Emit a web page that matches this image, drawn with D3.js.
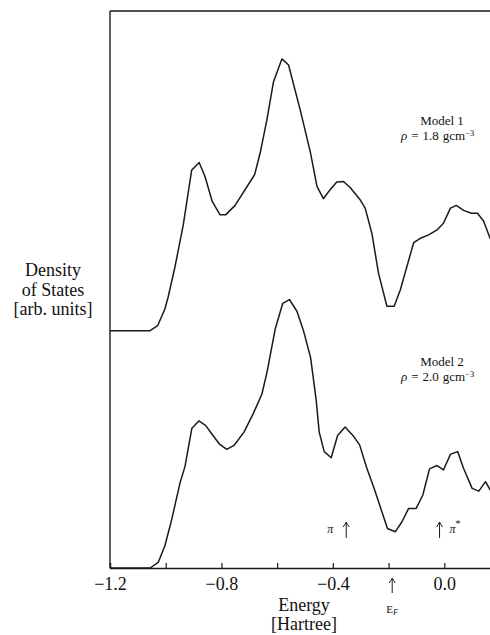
<!DOCTYPE html>
<html>
<head>
<meta charset="utf-8">
<script src="https://cdn.jsdelivr.net/npm/d3@7"></script>
<style>
  html, body { margin: 0; padding: 0; background: #fff; }
  svg { display: block; }
  text { font-family: "Liberation Serif", "DejaVu Serif", serif; fill: #111; }
</style>
</head>
<body>
<div id="chart"></div>
<script>
// ---- Data (energy in Hartree, density of states in arbitrary units) ----
const energy1 = [-1.2, -1.056, -1.029, -1.003, -0.991, -0.967, -0.937, -0.907, -0.880, -0.859,
  -0.833, -0.805, -0.785, -0.751, -0.681, -0.661, -0.637, -0.613, -0.583, -0.559,
  -0.517, -0.481, -0.457, -0.434, -0.410, -0.386, -0.362, -0.338, -0.302, -0.284,
  -0.260, -0.236, -0.206, -0.180, -0.158, -0.110, -0.086, -0.056, -0.026, -0.003,
  0.022, 0.043, 0.069, 0.097, 0.119, 0.141, 0.165];
const dosModel1 = [4.26, 4.26, 4.35, 4.65, 4.87, 5.40, 6.16, 7.14, 7.28, 7.03,
  6.58, 6.34, 6.34, 6.51, 7.06, 7.45, 8.04, 8.73, 9.14, 9.03,
  8.22, 7.47, 6.85, 6.63, 6.79, 6.93, 6.94, 6.83, 6.61, 6.46,
  6.01, 5.29, 4.70, 4.70, 4.99, 5.84, 5.92, 5.98, 6.07, 6.19,
  6.46, 6.51, 6.42, 6.37, 6.37, 6.23, 5.91];

const energy2 = [-1.2, -1.056, -1.027, -1.003, -0.979, -0.949, -0.931, -0.906, -0.881, -0.857,
  -0.835, -0.808, -0.781, -0.755, -0.719, -0.685, -0.655, -0.637, -0.607, -0.580,
  -0.556, -0.529, -0.506, -0.480, -0.460, -0.449, -0.431, -0.406, -0.383, -0.356,
  -0.328, -0.304, -0.278, -0.252, -0.204, -0.176, -0.152, -0.128, -0.101, -0.077,
  -0.053, -0.026, -0.003, 0.022, 0.048, 0.069, 0.100, 0.124, 0.148, 0.165];
const dosModel2 = [0, 0, 0.10, 0.40, 0.86, 1.52, 1.82, 2.51, 2.64, 2.56,
  2.41, 2.23, 2.13, 2.20, 2.44, 2.78, 3.12, 3.50, 4.29, 4.75,
  4.82, 4.61, 4.27, 3.78, 3.02, 2.44, 2.09, 1.98, 2.38, 2.53,
  2.38, 2.21, 1.79, 1.43, 0.71, 0.65, 0.83, 1.07, 1.07, 1.31,
  1.78, 1.84, 1.76, 2.04, 2.09, 1.79, 1.43, 1.38, 1.55, 1.40];

const tickValues = [-1.2, -1.0, -0.8, -0.6, -0.4, -0.2, 0.0, 0.2];
const tickLabels = ["\u22121.2", "", "\u22120.8", "", "\u22120.4", "", "0.0", ""];
const modelNames = ["Model 1", "Model 2"];
const modelDensities = ["1.8", "2.0"];
const fermiEnergy = -0.187;
const piEnergy = -0.352;
const piStarEnergy = -0.017;

// ---- Layout ----
const W = 490, H = 635;
const svg = d3.select("#chart").append("svg").attr("width", W).attr("height", H);

const x = d3.scaleLinear().domain([-1.2, 0.2]).range([110, 500]);
const y = d3.scaleLinear().domain([0, 10]).range([568, 11]);

const ink = "#1a1a1a";

// frame
svg.append("line").attr("x1", x(-1.2)).attr("x2", x(-1.2)).attr("y1", y(10)).attr("y2", y(0))
  .attr("stroke", ink).attr("stroke-width", 1.4);
svg.append("line").attr("x1", x(-1.2)).attr("x2", x(0.2)).attr("y1", y(10)).attr("y2", y(10))
  .attr("stroke", ink).attr("stroke-width", 1.4);

// bottom axis with inward ticks
const axis = d3.axisBottom(x).tickValues(tickValues).tickSize(-5).tickPadding(9)
  .tickFormat((d, i) => tickLabels[i]);
const gx = svg.append("g").attr("transform", `translate(0,${y(0)})`).call(axis);
gx.select(".domain").attr("stroke", ink).attr("stroke-width", 1.4);
gx.selectAll(".tick line").attr("stroke", ink).attr("stroke-width", 1.2);
gx.selectAll(".tick text").attr("font-family", "Liberation Serif, serif")
  .attr("font-size", 18).attr("fill", ink);

// curves
const line = d3.line().x(d => x(d[0])).y(d => y(d[1]));
const series = [
  d3.zip(energy1, dosModel1),
  d3.zip(energy2, dosModel2)
];
svg.selectAll("path.dos").data(series).enter().append("path")
  .attr("class", "dos")
  .attr("d", line)
  .attr("fill", "none").attr("stroke", ink).attr("stroke-width", 1.5)
  .attr("stroke-linejoin", "round");

// y-axis label
const yl = svg.append("text").attr("text-anchor", "middle").attr("font-size", 18);
yl.append("tspan").attr("x", 53).attr("y", 276).text("Density");
yl.append("tspan").attr("x", 53).attr("y", 296).text("of States");
yl.append("tspan").attr("x", 53).attr("y", 315).text("[arb. units]");

// x-axis label
const xl = svg.append("text").attr("text-anchor", "middle").attr("font-size", 18);
xl.append("tspan").attr("x", 304).attr("y", 611).text("Energy");
xl.append("tspan").attr("x", 304).attr("y", 630).text("[Hartree]");

// model labels
function modelLabel(cx, by, name, rho) {
  svg.append("text").attr("font-size", 13).attr("x", cx).attr("y", by)
    .attr("text-anchor", "middle").text(name);
  const t = svg.append("text").attr("font-size", 13).attr("x", 401).attr("y", by + 15);
  t.append("tspan").attr("font-style", "italic").text("\u03c1");
  t.append("tspan").attr("dx", 4).text("=");
  t.append("tspan").attr("dx", 4).text("1.8" === rho ? "1.8" : rho);
  t.append("tspan").attr("dx", 4).text("gcm");
  t.append("tspan").attr("font-size", 8.5).attr("dy", -4).text("\u22123");
}
modelLabel(442, 125, modelNames[0], modelDensities[0]);
modelLabel(442, 366, modelNames[1], modelDensities[1]);

// arrows
function upArrow(ex, yTop, yBot) {
  const px = x(ex);
  svg.append("line").attr("x1", px).attr("x2", px).attr("y1", yTop).attr("y2", yBot)
    .attr("stroke", ink).attr("stroke-width", 1);
  svg.append("path").attr("d", `M${px - 3},${yTop + 5} Q${px - 1},${yTop + 2} ${px},${yTop} Q${px + 1},${yTop + 2} ${px + 3},${yTop + 5}`)
    .attr("fill", "none").attr("stroke", ink).attr("stroke-width", 1);
}
upArrow(fermiEnergy, 578, 593);
upArrow(piEnergy, 522, 538);
upArrow(piStarEnergy, 522, 538);

svg.append("text").attr("x", x(piEnergy) - 16).attr("y", 533).attr("text-anchor", "middle")
  .attr("font-size", 12).attr("font-style", "italic").text("\u03c0");
const ps = svg.append("text").attr("x", x(piStarEnergy) + 10).attr("y", 533).attr("font-size", 12);
ps.append("tspan").attr("font-style", "italic").text("\u03c0");
ps.append("tspan").attr("font-size", 10).attr("dy", -6).text("*");

const ef = svg.append("text").attr("x", x(fermiEnergy) - 6).attr("y", 613).attr("font-size", 11);
ef.append("tspan").text("E");
ef.append("tspan").attr("font-size", 8).attr("font-style", "italic").attr("dy", 2).text("F");
</script>
</body>
</html>
